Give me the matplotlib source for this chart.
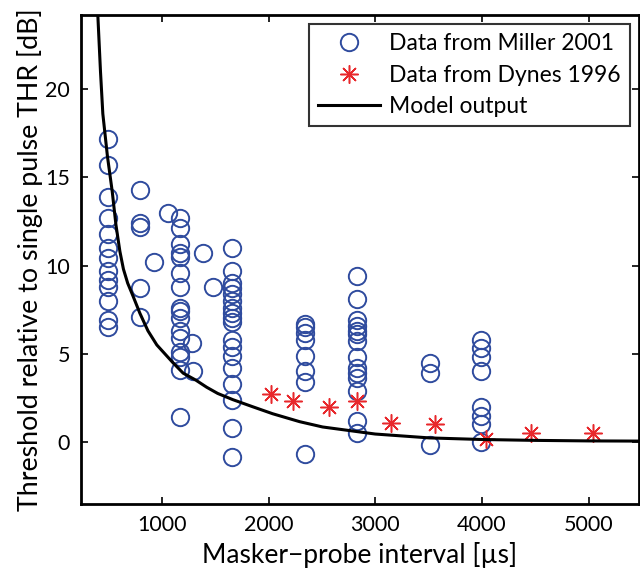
import matplotlib
matplotlib.use('Agg')
import matplotlib.pyplot as plt
import numpy as np

plt.rcParams['font.family'] = ['Lato', 'DejaVu Sans']

# Miller 2001 (masker-probe interval in us, threshold re single pulse in dB)
miller_x = ([494] * 13 + [794] * 5 + [925, 1056] + [1169] * 16
            + [1281, 1290, 1384, 1478] + [1655] * 18 + [2339] * 8
            + [2826] * 14 + [3509] * 3 + [3996] * 8)
miller_y = [17.2, 15.7, 13.9, 12.7, 11.8, 11.0, 10.4, 9.7, 9.2, 8.8, 8.0, 6.9, 6.5,
            14.3, 12.4, 12.2, 8.7, 7.1,
            10.2, 13.0,
            12.7, 12.1, 11.2, 10.7, 10.5, 9.6, 8.8, 7.6, 7.4, 7.0, 6.3, 5.9, 5.1, 4.8, 4.1, 1.4,
            5.6, 4.0, 10.7, 8.8,
            11.0, 9.7, 9.0, 8.7, 8.4, 8.0, 7.6, 7.3, 7.0, 6.8, 5.8, 5.4, 4.9, 4.2, 3.3, 2.4, 0.8, -0.85,
            6.7, 6.5, 6.2, 5.8, 4.9, 4.0, 3.4, -0.7,
            9.4, 8.1, 6.9, 6.6, 6.3, 6.1, 5.7, 4.8, 4.2, 3.9, 3.6, 2.9, 1.2, 0.5,
            4.5, 3.9, -0.17,
            5.8, 5.3, 4.8, 4.0, 2.0, 1.5, 1.0, 0.0]

# Dynes 1996
dynes_x = [2021, 2227, 2564, 2826, 3144, 3556, 4034, 4464, 5045]
dynes_y = [2.7, 2.3, 2.0, 2.3, 1.1, 1.0, 0.17, 0.5, 0.5]

# model output
model_x = [400, 425, 447, 490, 535, 570, 607, 640, 680, 728, 794, 870, 953, 1103, 1200,
           1320, 1421, 1524, 1665, 1850, 2039, 2292, 2507, 3000, 3509, 4000, 4500, 5000, 5470]
model_y = [24.2, 21.0, 18.6, 16.2, 14.2, 12.3, 10.8, 9.8, 9.0, 8.3, 7.3, 6.3, 5.5, 4.5, 3.9,
           3.5, 3.1, 2.75, 2.4, 2.0, 1.6, 1.15, 0.85, 0.45, 0.23, 0.14, 0.09, 0.06, 0.05]

fig = plt.figure(figsize=(6.4, 5.77), dpi=100)
ax = fig.add_axes([0.127, 0.127, 0.871, 0.847])

ax.plot(miller_x, miller_y, 'o', ms=12.5, mfc='none', mec='#2f4b9e', mew=1.4,
        ls='none', label='Data from Miller 2001')
ax.plot(dynes_x, dynes_y, marker=(8, 2, 0), ms=13, color='#e8282c', mew=1.1,
        ls='none', label='Data from Dynes 1996')
ax.plot(model_x, model_y, '-', color='black', lw=2.2, label='Model output')

ax.set_xlim(245, 5470)
ax.set_ylim(-3.5, 24.2)
ax.set_xticks([1000, 2000, 3000, 4000, 5000])
ax.set_yticks([0, 5, 10, 15, 20])

ax.tick_params(direction='in', top=True, right=True, length=5, width=1.2, labelsize=15.5, pad=8)
for s in ax.spines.values():
    s.set_linewidth(2)

ax.set_xlabel('Masker\u2212probe interval [\u00b5s]', fontsize=19, labelpad=5)
ax.set_ylabel('Threshold relative to single pulse THR [dB]', fontsize=19.3, labelpad=2)

leg = ax.legend(loc='upper right', fontsize=16.5, frameon=True, fancybox=False,
                edgecolor='black', borderaxespad=0.4, handlelength=2.7,
                handletextpad=0.4, labelspacing=0.45, borderpad=0.4)
leg.get_frame().set_linewidth(1.5)

fig.savefig('out.png', dpi=100)
